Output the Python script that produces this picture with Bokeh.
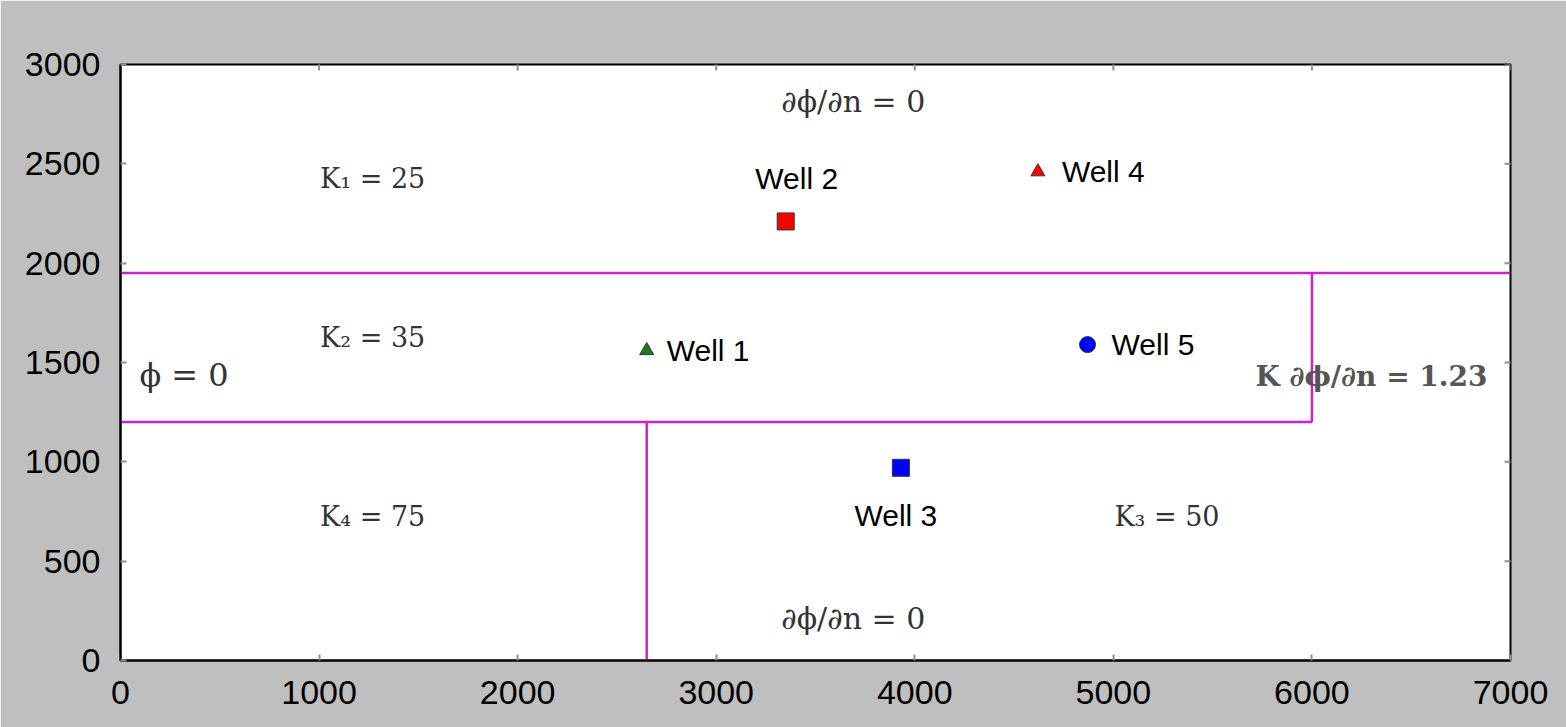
import math
from bokeh.plotting import figure
from bokeh.models import ColumnDataSource, SingleIntervalTicker, Range1d
from bokeh.core.properties import value
from bokeh.embed import file_html
from bokeh.resources import INLINE

# ---- data ----
wells = ["Well 1", "Well 2", "Well 3", "Well 4", "Well 5"]
well_x = [2650, 3350, 3930, 4620, 4870]
well_y = [1560, 2210, 970, 2460, 1590]
well_marker = ["triangle", "square", "square", "triangle", "circle"]
well_color = ["#1f7a1f", "#ff0000", "#0000ff", "#ff0000", "#0000ff"]

# boundary segments (x0, y0, x1, y1)
seg_x0 = [0, 0, 6000, 2650]
seg_y0 = [1950, 1200, 1200, 0]
seg_x1 = [7000, 6000, 6000, 2650]
seg_y1 = [1950, 1200, 1950, 1200]

region_text = ["K\u2081 = 25", "K\u2082 = 35", "K\u2084 = 75", "K\u2083 = 50"]
region_x = [1270, 1270, 1270, 5270]
region_y = [2425, 1625, 725, 725]

bc_text = ["\u2202\u03d5/\u2202n = 0", "\u2202\u03d5/\u2202n = 0"]
bc_x = [3690, 3690]
bc_y = [2815, 210]

x_min, x_max, x_step = 0, 7000, 1000
y_min, y_max, y_step = 0, 3000, 500
x_ticks = list(range(x_min, x_max + 1, x_step))
y_ticks = list(range(y_min, y_max + 1, y_step))

# ---- figure ----
p = figure(width=1566, height=727, output_backend="svg", toolbar_location=None,
           x_range=Range1d(x_min, x_max), y_range=Range1d(y_min, y_max),
           min_border_left=120, min_border_right=56, min_border_top=64, min_border_bottom=67)
p.background_fill_color = "white"
p.border_fill_color = "#bfbfbf"
p.outline_line_color = "black"
p.outline_line_width = 2
p.grid.visible = False

for ax in (p.xaxis[0], p.yaxis[0]):
    ax.axis_line_color = "black"
    ax.axis_line_width = 2
    ax.major_tick_in = 6
    ax.major_tick_out = 0
    ax.major_tick_line_color = "#909090"
    ax.major_tick_line_width = 2
    ax.minor_tick_line_color = None
    ax.major_label_text_font = "Liberation Sans"
    ax.major_label_text_font_size = "34px"
    ax.major_label_text_color = "black"
    ax.major_label_standoff = 16
p.xaxis[0].ticker = SingleIntervalTicker(interval=x_step)
p.yaxis[0].ticker = SingleIntervalTicker(interval=y_step)

# mirrored inward ticks on top and right edges
p.scatter(x=x_ticks, y=[y_max] * len(x_ticks), marker="dash", size=12, angle=math.pi / 2,
          line_color="#909090", line_width=2)
p.scatter(x=[x_max] * len(y_ticks), y=y_ticks, marker="dash", size=12,
          line_color="#909090", line_width=2)

# boundaries
p.segment(x0=seg_x0, y0=seg_y0, x1=seg_x1, y1=seg_y1, line_color="#cc22cc", line_width=2.5)

# wells
src = ColumnDataSource(dict(
    x=well_x, y=well_y, name=wells, marker=well_marker, color=well_color,
    size=[14, 17, 17, 14, 16],
    dx=[20, 11, -5, 24, 24],
    dy=[0, -43, 48, 0, 0],
    align=["left", "center", "center", "left", "left"],
))
p.scatter(x="x", y="y", marker="marker", size="size", fill_color="color",
          line_color="#333333", line_width=1, source=src)
p.text(x="x", y="y", text="name", x_offset="dx", y_offset="dy", text_align="align",
       text_baseline="middle", text_font=value("Liberation Sans"), text_font_size="30px",
       text_color="black", source=src)

# region labels
p.text(x=region_x, y=region_y, text=region_text, text_align="center", text_baseline="middle",
       text_font=value("DejaVu Serif"), text_font_size="27px", text_color="#333333")
p.text(x=bc_x, y=bc_y, text=bc_text, text_align="center", text_baseline="middle",
       text_font=value("DejaVu Serif"), text_font_size="30px", text_color="#333333")
p.text(x=[320], y=[1435], text=["\u03d5 = 0"], text_align="center", text_baseline="middle",
       text_font=value("DejaVu Serif"), text_font_size="32px", text_color="#333333")
p.text(x=[6300], y=[1430], text=["K \u2202\u03d5/\u2202n = 1.23"], text_align="center",
       text_baseline="middle", text_font=value("DejaVu Serif"), text_font_size="28px",
       text_font_style="bold", text_color="#555555")

open("out.html", "w").write(file_html(p, INLINE))
